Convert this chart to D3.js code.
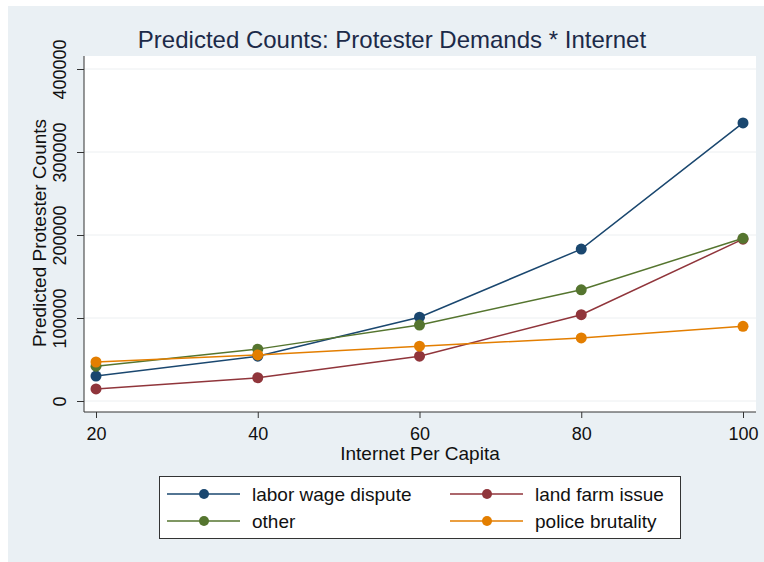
<!DOCTYPE html>
<html>
<head>
<meta charset="utf-8">
<script src="https://cdn.jsdelivr.net/npm/d3@7"></script>
<style>
  html, body { margin: 0; padding: 0; background: #fff; }
  svg { display: block; font-family: "Liberation Sans", Arial, sans-serif; }
</style>
</head>
<body>
<svg id="chart" width="764" height="562"></svg>
<script>
// --- data ---
const internet = [20, 40, 60, 80, 100];
const laborWage = [30000, 54000, 101000, 183000, 335000];
const landFarm = [14500, 28000, 54000, 104000, 195000];
const other = [42000, 62500, 91500, 134000, 196000];
const police = [47000, 55500, 66000, 76000, 90000];
const yTicks = [0, 100000, 200000, 300000, 400000];
const xTicks = [20, 40, 60, 80, 100];

const series = [
  { name: "labor wage dispute", values: laborWage, color: "#1a476f" },
  { name: "land farm issue", values: landFarm, color: "#90353b" },
  { name: "other", values: other, color: "#55752f" },
  { name: "police brutality", values: police, color: "#e37e00" }
];

const svg = d3.select("#chart");

// outer graph region
svg.append("rect").attr("x", 8).attr("y", 6).attr("width", 756).attr("height", 556)
  .attr("fill", "#eaf0f4");

// plot region
const plot = { left: 84, right: 756, top: 56, bottom: 412 };
svg.append("rect")
  .attr("x", plot.left).attr("y", plot.top)
  .attr("width", plot.right - plot.left).attr("height", plot.bottom - plot.top)
  .attr("fill", "#fff");

const x = d3.scaleLinear().domain([20, 100]).range([96, 743]);
const y = d3.scaleLinear().domain([0, 400000]).range([401, 69]);

// gridlines
svg.append("g").selectAll("line").data(yTicks).join("line")
  .attr("x1", plot.left).attr("x2", plot.right)
  .attr("y1", d => y(d)).attr("y2", d => y(d))
  .attr("stroke", "#eceff1").attr("stroke-width", 1);

// y axis
const yAxis = svg.append("g").attr("transform", `translate(${plot.left},0)`)
  .call(d3.axisLeft(y).tickValues(yTicks).tickSize(7).tickPadding(0).tickFormat(d3.format("d")));
yAxis.select(".domain").attr("d", `M0,${plot.top}V${plot.bottom}`).attr("stroke", "#333");
yAxis.selectAll(".tick line").attr("stroke", "#333");
yAxis.selectAll(".tick text")
  .attr("transform", "translate(-24,0) rotate(-90)")
  .attr("x", 0).attr("dy", "0.35em").attr("text-anchor", "middle")
  .attr("font-size", 18).attr("fill", "#111")
  .style("font-family", "Liberation Sans, Arial, sans-serif");

// x axis
const xAxis = svg.append("g").attr("transform", `translate(0,${plot.bottom})`)
  .call(d3.axisBottom(x).tickValues(xTicks).tickSize(6).tickPadding(9));
xAxis.select(".domain").attr("d", `M${plot.left},0H${plot.right}`).attr("stroke", "#333");
xAxis.selectAll(".tick line").attr("stroke", "#333");
xAxis.selectAll(".tick text").attr("font-size", 18).attr("fill", "#111")
  .style("font-family", "Liberation Sans, Arial, sans-serif");

// axis titles
svg.append("text").attr("x", 420).attr("y", 460).attr("text-anchor", "middle")
  .attr("font-size", 19).attr("fill", "#111").text("Internet Per Capita");
svg.append("text").attr("transform", "translate(46,233) rotate(-90)")
  .attr("text-anchor", "middle").attr("font-size", 19).attr("fill", "#111")
  .text("Predicted Protester Counts");

// title
svg.append("text").attr("x", 392).attr("y", 48).attr("text-anchor", "middle")
  .attr("font-size", 24).attr("fill", "#1c2a48")
  .text("Predicted Counts: Protester Demands * Internet");

// lines and markers
const line = d3.line().x((d, i) => x(internet[i])).y(d => y(d));
const g = svg.append("g");
series.forEach(s => {
  g.append("path").datum(s.values).attr("d", line)
    .attr("fill", "none").attr("stroke", s.color).attr("stroke-width", 1.5);
  g.selectAll(null).data(s.values).join("circle")
    .attr("cx", (d, i) => x(internet[i])).attr("cy", d => y(d)).attr("r", 5.5)
    .attr("fill", s.color);
});

// legend
const legend = svg.append("g");
legend.append("rect").attr("x", 159.5).attr("y", 476.5).attr("width", 521).attr("height", 62)
  .attr("fill", "#fff").attr("stroke", "#333").attr("stroke-width", 1);
const legPos = [
  { lx: 167, ty: 494 }, { lx: 450, ty: 494 },
  { lx: 167, ty: 521 }, { lx: 450, ty: 521 }
];
series.forEach((s, i) => {
  const p = legPos[i];
  legend.append("line").attr("x1", p.lx).attr("x2", p.lx + 73)
    .attr("y1", p.ty).attr("y2", p.ty).attr("stroke", s.color).attr("stroke-width", 1.5);
  legend.append("circle").attr("cx", p.lx + 37).attr("cy", p.ty).attr("r", 5).attr("fill", s.color);
  legend.append("text").attr("x", p.lx + 85).attr("y", p.ty).attr("dy", "0.35em")
    .attr("font-size", 19).attr("fill", "#111").text(s.name);
});
</script>
</body>
</html>
